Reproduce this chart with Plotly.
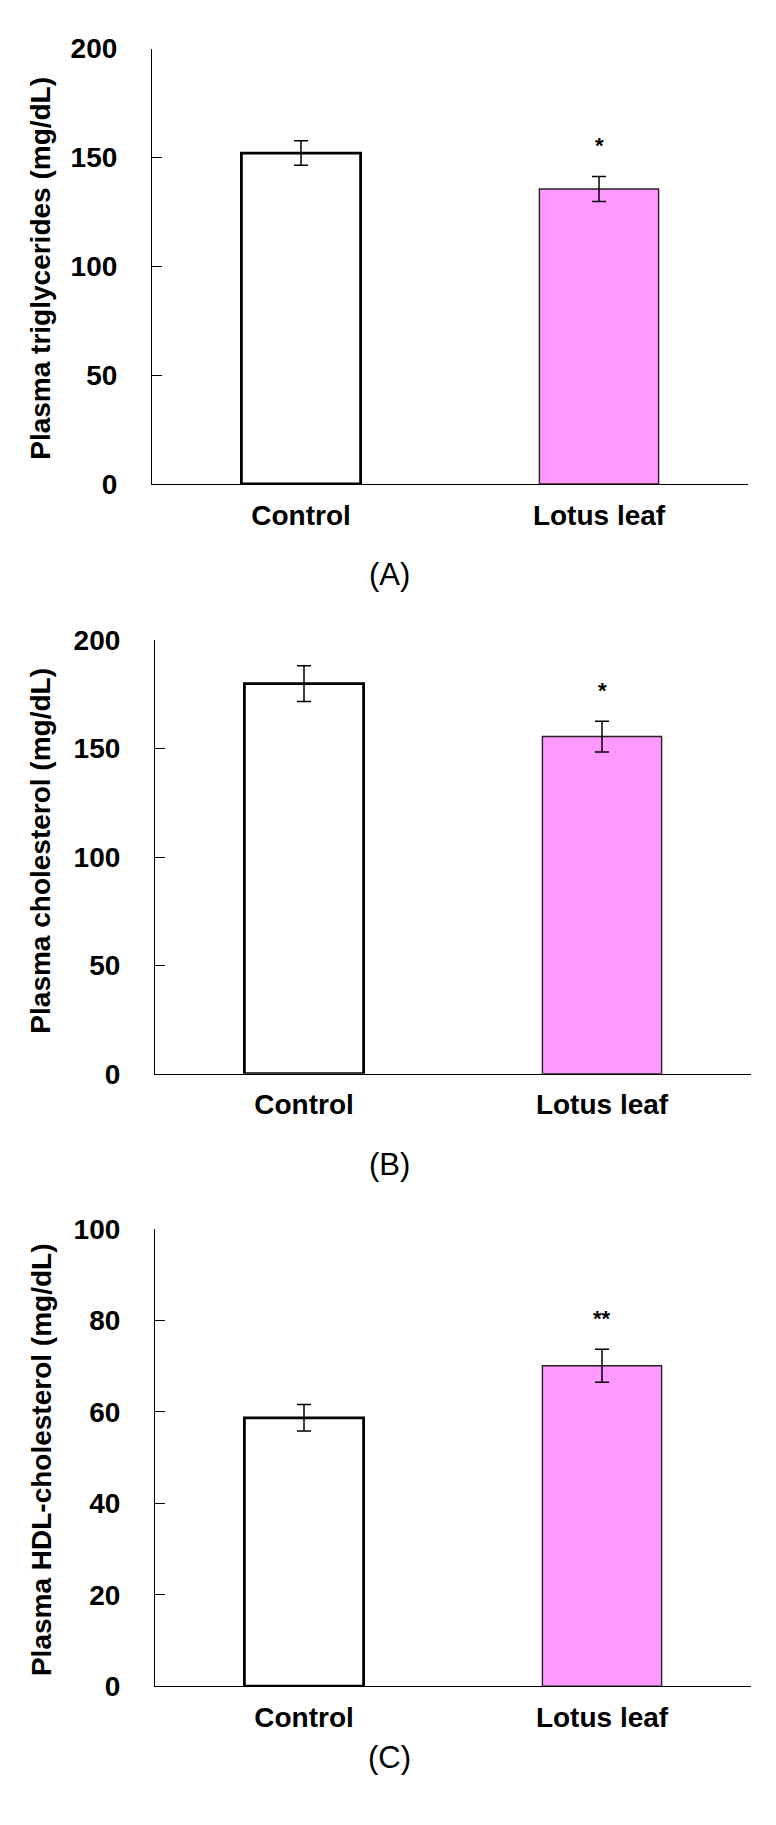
import plotly.graph_objects as go
from plotly.subplots import make_subplots

# data
groups = ["Control", "Lotus leaf"]

tg_mean = [152.0, 135.5]
tg_err = [5.6, 5.7]
tg_sig = ["", "*"]

chol_mean = [180.0, 155.6]
chol_err = [8.2, 7.1]
chol_sig = ["", "*"]

hdl_mean = [58.7, 70.1]
hdl_err = [2.9, 3.6]
hdl_sig = ["", "**"]

y_titles = [
    "Plasma triglycerides (mg/dL)",
    "Plasma cholesterol (mg/dL)",
    "Plasma HDL-cholesterol (mg/dL)",
]
panel_labels = ["(A)", "(B)", "(C)"]
y_max = [200, 200, 100]
y_step = [50, 50, 20]

# page body has an 8px margin, so the figure is made that much smaller
OFF = 8
W, H = 776 - OFF, 1825 - OFF
FONT = "Liberation Sans, Arial, sans-serif"
PINK = "#FF99FF"

# plot areas in screen pixels: (x0, x1, y_top, y_bottom)
boxes = [
    (152, 748, 34, 477),
    (155, 751, 636, 1077),
    (155, 751, 1235, 1700),
]
title_y = [258, 850, 1470]
label_y = [569, 1169, 1773]


def px_x(v):
    return (v - OFF) / W


def px_y(v):
    return 1 - (v - OFF) / H


fig = make_subplots(rows=3, cols=1)

panels = [
    (tg_mean, tg_err, tg_sig),
    (chol_mean, chol_err, chol_sig),
    (hdl_mean, hdl_err, hdl_sig),
]

for i, (mean, err, sig) in enumerate(panels):
    row = i + 1
    fig.add_trace(go.Bar(
        x=groups,
        y=mean,
        width=0.4,
        marker=dict(color=["white", PINK],
                    line=dict(color=["black", "#222222"], width=[2.8, 1.4])),
        error_y=dict(type="data", array=err, color="black", thickness=1.5, width=7),
        showlegend=False,
    ), row=row, col=1)

    x0, x1, yt, yb = boxes[i]
    xa = "xaxis" if i == 0 else f"xaxis{row}"
    ya = "yaxis" if i == 0 else f"yaxis{row}"
    fig.layout[xa].update(
        domain=[px_x(x0), px_x(x1)], type="category", range=[-0.5, 1.5],
        showline=True, linecolor="black", linewidth=1.2, ticks="",
        showgrid=False, zeroline=False, ticklabelstandoff=6,
        tickfont=dict(family=FONT, size=28, color="black", weight="bold"),
    )
    fig.layout[ya].update(
        domain=[px_y(yb), px_y(yt)], range=[0, y_max[i]], dtick=y_step[i],
        showline=True, linecolor="black", linewidth=1.2,
        ticks="inside", ticklen=10, tickwidth=1.2, tickcolor="black",
        showgrid=False, zeroline=False, ticklabelstandoff=28,
        tickfont=dict(family=FONT, size=28, color="black", weight="bold"),
    )

    # y-axis title
    fig.add_annotation(
        x=px_x(41), y=px_y(title_y[i]), xref="paper", yref="paper",
        xanchor="center", yanchor="middle",
        text=y_titles[i], textangle=-90, showarrow=False,
        font=dict(family=FONT, size=28, color="black", weight="bold"),
    )
    # panel label
    fig.add_annotation(
        x=px_x(389), y=px_y(label_y[i]), xref="paper", yref="paper",
        xanchor="center", yanchor="middle",
        text=panel_labels[i], showarrow=False,
        font=dict(family=FONT, size=31, color="black"),
    )
    # significance stars
    xr = "x" if i == 0 else f"x{row}"
    yr = "y" if i == 0 else f"y{row}"
    for g, m, e, s in zip(groups, mean, err, sig):
        if s:
            fig.add_annotation(
                x=g, y=m + e, xref=xr, yref=yr, text=s, showarrow=False,
                yanchor="middle", yshift=31,
                font=dict(family=FONT, size=22, color="black", weight="bold"),
            )

fig.update_layout(
    width=W, height=H,
    margin=dict(l=0, r=0, t=0, b=0),
    plot_bgcolor="white", paper_bgcolor="white",
)

fig.write_html("out.html")
